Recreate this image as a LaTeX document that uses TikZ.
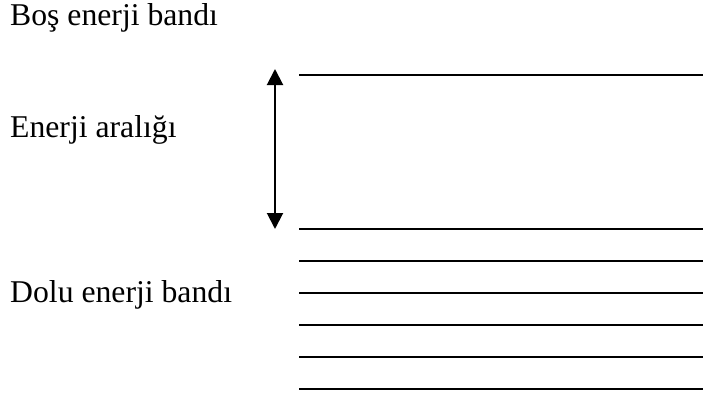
\documentclass[tikz,border=0pt]{standalone}
\usepackage{fontspec}
\setmainfont{Liberation Serif}
\usetikzlibrary{arrows.meta}
\begin{document}
\begin{tikzpicture}[x=1pt,y=-1pt,
  label/.style={anchor=base west,inner sep=0pt,font=\fontsize{31.7}{38}\selectfont},
  level/.style={line width=2pt},
  gap/.style={line width=2pt,{Triangle[length=16pt,width=16pt]}-{Triangle[length=16pt,width=16pt]}}]
  \useasboundingbox (0,0) rectangle (704,396);
  % band labels
  \node[label] (bos)  at (10,26)  {Boş enerji bandı};
  \node[label] (gapl) at (10,137) {Enerji aralığı};
  \node[label] (dolu) at (10,302) {Dolu enerji bandı};
  % conduction band edge
  \coordinate (c0a) at (299,75);
  \coordinate (c0b) at (703,75);
  \draw[level] (c0a) -- (c0b);
  % filled band levels
  \foreach \i in {0,...,5} {
    \coordinate (v\i a) at (299,229+32*\i);
    \coordinate (v\i b) at (703,229+32*\i);
    \draw[level] (v\i a) -- (v\i b);
  }
  % energy gap arrow
  \coordinate (gtop) at (275,69);
  \coordinate (gbot) at (275,229);
  \draw[gap] (gtop) -- (gbot);
\end{tikzpicture}
\end{document}
